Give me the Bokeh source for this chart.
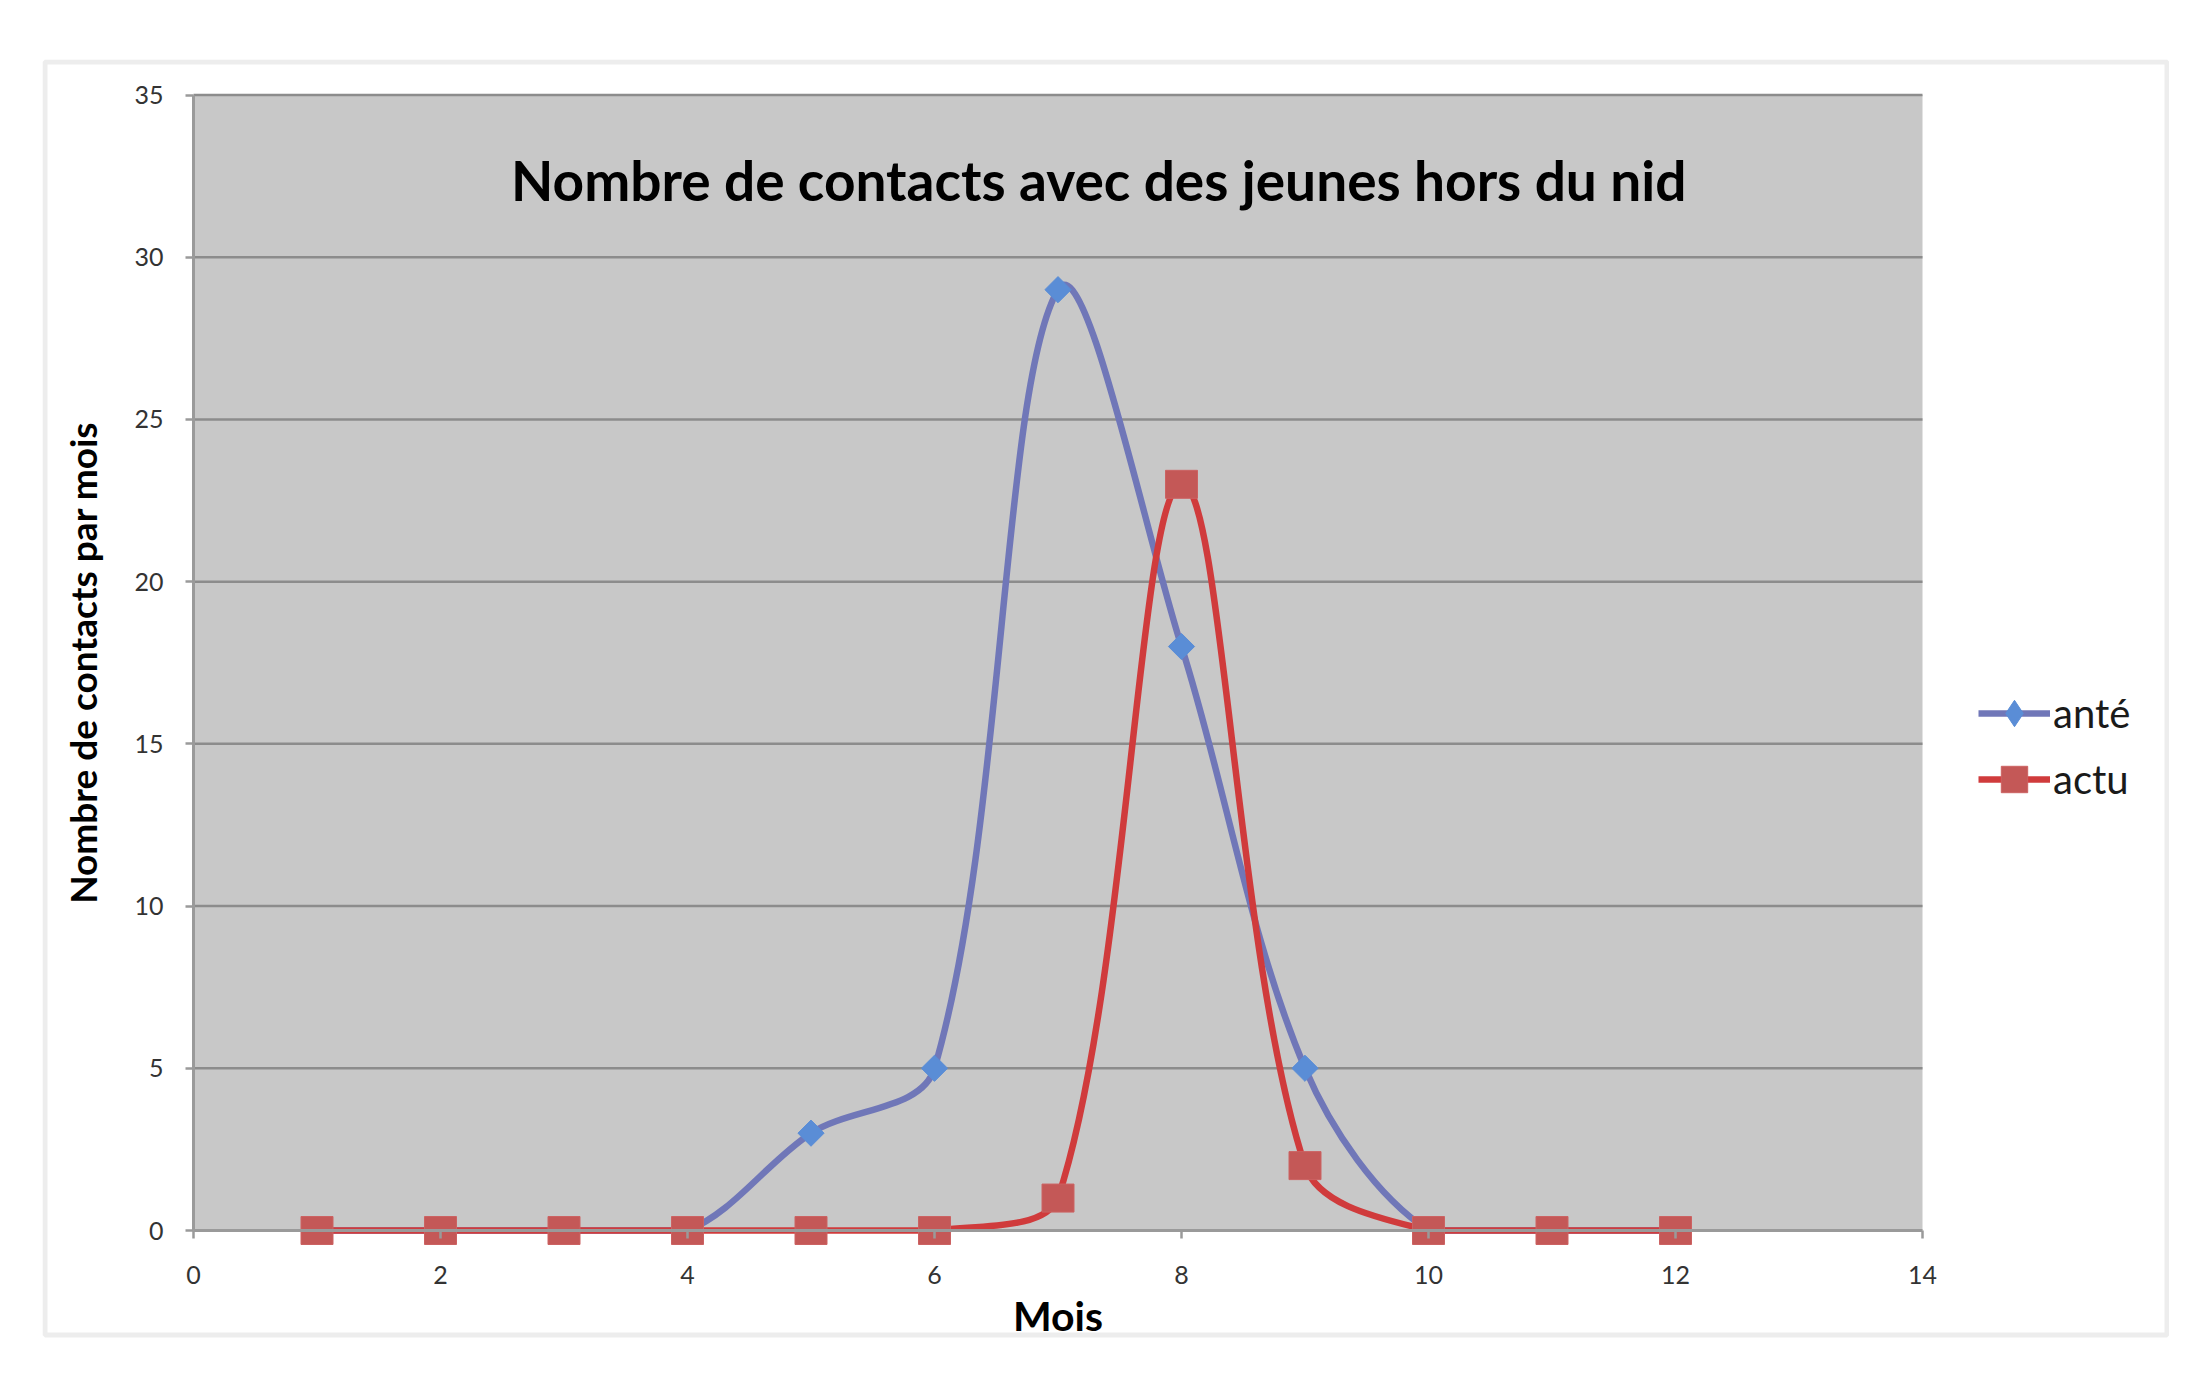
import numpy as np
from bokeh.plotting import figure
from bokeh.models import (Range1d, FixedTicker, Legend, LegendItem, Label,
                          ColumnDataSource, Spacer, BoxAnnotation)
from bokeh.layouts import column, row
from bokeh.embed import file_html
from bokeh.resources import INLINE

# ---------------- data ----------------
months = [1, 2, 3, 4, 5, 6, 7, 8, 9, 10, 11, 12]
ante = [0, 0, 0, 0, 3, 5, 29, 18, 5, 0, 0, 0]
actu = [0, 0, 0, 0, 0, 0, 1, 23, 2, 0, 0, 0]
series_labels = ["anté", "actu"]
x_tick_values = [0, 2, 4, 6, 8, 10, 12, 14]
y_tick_values = [0, 5, 10, 15, 20, 25, 30, 35]
title_text = "Nombre de contacts avec des jeunes hors du nid"
x_label = "Mois"
y_label = "Nombre de contacts par mois"

# ---------------- layout constants (pixels) ----------------
FIG_W, FIG_H = 2127, 1300          # canvas
BOX_W, BOX_H = 2127, 1278          # light chart border box
AREA_L, AREA_W = 151, 1729         # gray plot area: left edge and width
AREA_B, AREA_H = 1171, 1135.5      # gray plot area: bottom edge (from top) and height
XMIN, XMAX = x_tick_values[0], x_tick_values[-1]
YMIN, YMAX = y_tick_values[0], y_tick_values[-1]
KX = AREA_W / (XMAX - XMIN)
KY = AREA_H / (YMAX - YMIN)
X0, X1 = XMIN - AREA_L / KX, XMIN + (FIG_W - AREA_L) / KX
Y0, Y1 = YMIN - (FIG_H - AREA_B) / KY, YMIN + AREA_B / KY

BLUE_LINE = "#7077B8"
BLUE_MARK = "#5A8DD6"
RED_LINE = "#D03B3C"
RED_MARK = "#C45857"
RED_EDGE = "#CC6262"
AXIS_GRAY = "#9A9A9A"
GRID_GRAY = "#8C8C8C"
FONT = "Lato"


def smooth_segments(xs, ys, floor=0.0):
    """Excel-like smoothed line: cubic Bezier control points computed in
    screen space (Catmull-Rom with chord-length scaling)."""
    X = np.asarray(xs, float) * KX
    Y = np.asarray(ys, float) * KY
    n = len(X)
    out = {k: [] for k in ("x0", "y0", "x1", "y1", "cx0", "cy0", "cx1", "cy1")}
    for i in range(n - 1):
        a, b = max(i - 1, 0), min(i + 2, n - 1)
        p0 = np.array([X[a], Y[a]]); p1 = np.array([X[i], Y[i]])
        p2 = np.array([X[i + 1], Y[i + 1]]); p3 = np.array([X[b], Y[b]])
        d01 = np.hypot(*(p1 - p0)); d12 = np.hypot(*(p2 - p1)); d23 = np.hypot(*(p3 - p2))
        f1 = 2 * d12 / (d01 + d12) if d01 + d12 > 0 else 0
        f2 = 2 * d12 / (d12 + d23) if d12 + d23 > 0 else 0
        c1 = p1 + (p2 - p0) / 6 * f1
        c2 = p2 - (p3 - p1) / 6 * f2
        out["x0"].append(p1[0] / KX); out["y0"].append(p1[1] / KY)
        out["x1"].append(p2[0] / KX); out["y1"].append(p2[1] / KY)
        out["cx0"].append(c1[0] / KX); out["cy0"].append(max(c1[1] / KY, floor))
        out["cx1"].append(c2[0] / KX); out["cy1"].append(max(c2[1] / KY, floor))
    return ColumnDataSource(out)


p = figure(width=FIG_W, height=FIG_H,
           x_range=Range1d(X0, X1), y_range=Range1d(Y0, Y1),
           output_backend="svg", toolbar_location=None,
           min_border_left=0, min_border_right=0,
           min_border_top=0, min_border_bottom=0)
p.background_fill_color = "white"
p.border_fill_color = "white"
p.outline_line_color = None

# light chart border
p.add_layout(BoxAnnotation(left=X0 + 2.5 / KX, right=X0 + (BOX_W - 2.5) / KX,
                           top=Y1 - 2.5 / KY, bottom=Y1 - (BOX_H - 2.5) / KY,
                           fill_alpha=0, line_color="#C4C4C4", line_width=5,
                           level="image"))
# gray plot area
p.add_layout(BoxAnnotation(left=XMIN, right=XMAX, bottom=YMIN, top=YMAX,
                           fill_color="#C8C8C8", fill_alpha=1.0,
                           line_color=None, level="image"))

# axes (fixed at the data origin)
for ax in (p.xaxis[0], p.yaxis[0]):
    ax.axis_line_color = AXIS_GRAY
    ax.axis_line_width = 3
    ax.major_tick_line_color = AXIS_GRAY
    ax.major_tick_line_width = 2.5
    ax.major_tick_out = 8
    ax.major_tick_in = 0
    ax.minor_tick_line_color = None
    ax.major_label_text_font = FONT
    ax.major_label_text_font_size = "25px"
    ax.major_label_text_color = "#333333"

p.xaxis.fixed_location = YMIN
p.yaxis.fixed_location = XMIN
p.xaxis.bounds = (XMIN, XMAX)
p.yaxis.bounds = (YMIN, YMAX)
p.xaxis.ticker = FixedTicker(ticks=x_tick_values)
p.yaxis.ticker = FixedTicker(ticks=y_tick_values)
p.xaxis.major_label_standoff = 27
p.yaxis.major_label_standoff = 22
p.xgrid.visible = False
p.ygrid.visible = False

# horizontal grid lines across the gray area
grid_ticks = y_tick_values[1:]
p.segment(x0=[XMIN] * len(grid_ticks), x1=[XMAX] * len(grid_ticks),
          y0=grid_ticks, y1=grid_ticks, line_color=GRID_GRAY, line_width=2.5)

# series
src_ante = smooth_segments(months, ante)
src_actu = smooth_segments(months, actu)

r_ante_curve = p.bezier(x0="x0", y0="y0", x1="x1", y1="y1", cx0="cx0", cy0="cy0",
                        cx1="cx1", cy1="cy1", source=src_ante,
                        line_color=BLUE_LINE, line_width=6.5)
p.scatter(months, ante, marker="square", angle=np.pi / 4, size=18.5,
          fill_color=BLUE_MARK, line_color=BLUE_MARK, line_width=1)

r_actu_curve = p.bezier(x0="x0", y0="y0", x1="x1", y1="y1", cx0="cx0", cy0="cy0",
                        cx1="cx1", cy1="cy1", source=src_actu,
                        line_color=RED_LINE, line_width=6.5)
p.rect(months, actu, width=32, height=28, width_units="screen", height_units="screen",
       fill_color=RED_MARK, line_color=RED_EDGE, line_width=1)

# legend marker renderers (zero size in the plot; the legend sizes its own glyphs)
leg_ante = p.scatter(months, ante, marker="diamond", size=0, fill_color=BLUE_MARK,
                     line_color=BLUE_MARK, line_width=1)
leg_actu = p.scatter(months, actu, marker="square", size=0, fill_color=RED_MARK,
                     line_color=RED_EDGE, line_width=1)

legend = Legend(items=[LegendItem(label=series_labels[0], renderers=[r_ante_curve, leg_ante]),
                       LegendItem(label=series_labels[1], renderers=[r_actu_curve, leg_actu])],
                location=(1936, 547), orientation="vertical",
                padding=0, margin=0, spacing=0,
                glyph_width=72, glyph_height=66, label_height=66, label_standoff=3,
                border_line_color=None, background_fill_alpha=0,
                label_text_font=FONT, label_text_font_size="40px",
                label_text_color="#1A1A1A")
p.add_layout(legend)

# title and axis titles
p.add_layout(Label(x=7.33, y=32.39, text=title_text, text_align="center",
                   text_baseline="middle", text_font=FONT, text_font_style="bold",
                   text_font_size="55px", text_color="black"))
p.add_layout(Label(x=(XMIN + XMAX) / 2, y=-2.63, text=x_label, text_align="center",
                   text_baseline="middle", text_font=FONT, text_font_style="bold",
                   text_font_size="41px", text_color="black"))
p.add_layout(Label(x=-0.898, y=(YMIN + YMAX) / 2, text=y_label, angle=np.pi / 2,
                   text_align="center", text_baseline="middle", text_font=FONT,
                   text_font_style="bold", text_font_size="37px", text_color="black"))

layout = column(Spacer(height=59), row(Spacer(width=42), p))
open("out.html", "w").write(file_html(layout, INLINE))
